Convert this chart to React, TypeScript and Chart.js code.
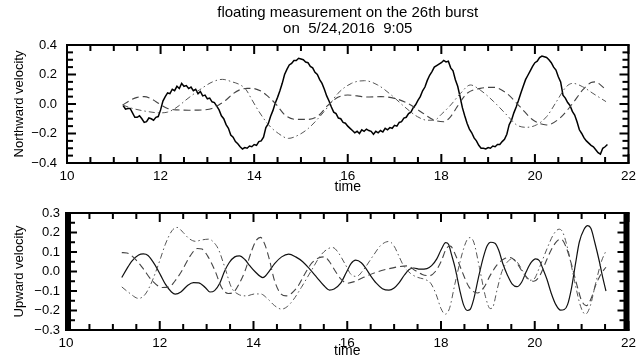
import React, { useEffect, useRef } from "react";
import { Chart, registerables } from "chart.js";

Chart.register(...registerables);

// ---------- text ----------
const TITLE_LINES = ["floating measurement on the 26th burst", "on  5/24,2016  9:05"];
const X_TITLE = "time";
const TOP_Y_TITLE = "Northward velocity";
const BOTTOM_Y_TITLE = "Upward velocity";

// ---------- axis ranges / ticks ----------
const X_RANGE = [10, 22];
const X_MAJOR = 2;
const X_MINOR = 0.5;
const TOP_Y_RANGE = [-0.4, 0.4];
const TOP_Y_MAJOR = 0.2;
const TOP_Y_MINOR = 0.05;
const BOTTOM_Y_RANGE = [-0.3, 0.3];
const BOTTOM_Y_MAJOR = 0.1;
const BOTTOM_Y_MINOR = 0.05;

// ---------- Northward velocity ----------
const northSolidT = [
  11.2, 11.25, 11.3, 11.35, 11.4, 11.45, 11.5, 11.55, 11.6, 11.65,
  11.7, 11.75, 11.8, 11.85, 11.9, 11.95, 12.0, 12.05, 12.1, 12.15,
  12.2, 12.25, 12.3, 12.35, 12.4, 12.45, 12.5, 12.55, 12.6, 12.65,
  12.7, 12.75, 12.8, 12.85, 12.9, 12.95, 13.0, 13.05, 13.1, 13.15,
  13.2, 13.25, 13.3, 13.35, 13.4, 13.45, 13.5, 13.55, 13.6, 13.65,
  13.7, 13.75, 13.8, 13.85, 13.9, 13.95, 14.0, 14.05, 14.1, 14.15,
  14.2, 14.25, 14.3, 14.35, 14.4, 14.45, 14.5, 14.55, 14.6, 14.65,
  14.7, 14.75, 14.8, 14.85, 14.9, 14.95, 15.0, 15.05, 15.1, 15.15,
  15.2, 15.25, 15.3, 15.35, 15.4, 15.45, 15.5, 15.55, 15.6, 15.65,
  15.7, 15.75, 15.8, 15.85, 15.9, 15.95, 16.0, 16.05, 16.1, 16.15,
  16.2, 16.25, 16.3, 16.35, 16.4, 16.45, 16.5, 16.55, 16.6, 16.65,
  16.7, 16.75, 16.8, 16.85, 16.9, 16.95, 17.0, 17.05, 17.1, 17.15,
  17.2, 17.25, 17.3, 17.35, 17.4, 17.45, 17.5, 17.55, 17.6, 17.65,
  17.7, 17.75, 17.8, 17.85, 17.9, 17.95, 18.0, 18.05, 18.1, 18.15,
  18.2, 18.25, 18.3, 18.35, 18.4, 18.45, 18.5, 18.55, 18.6, 18.65,
  18.7, 18.75, 18.8, 18.85, 18.9, 18.95, 19.0, 19.05, 19.1, 19.15,
  19.2, 19.25, 19.3, 19.35, 19.4, 19.45, 19.5, 19.55, 19.6, 19.65,
  19.7, 19.75, 19.8, 19.85, 19.9, 19.95, 20.0, 20.05, 20.1, 20.15,
  20.2, 20.25, 20.3, 20.35, 20.4, 20.45, 20.5, 20.55, 20.6, 20.65,
  20.7, 20.75, 20.8, 20.85, 20.9, 20.95, 21.0, 21.05, 21.1, 21.15,
  21.2, 21.25, 21.3, 21.35, 21.4, 21.45, 21.5, 21.55,
];
const northSolidV = [
  -0.010, -0.035, -0.030, -0.030, -0.060, -0.090, -0.090, -0.080, -0.100, -0.125,
  -0.120, -0.095, -0.100, -0.110, -0.090, -0.085, -0.040, 0.020, 0.050, 0.075,
  0.070, 0.100, 0.090, 0.120, 0.105, 0.140, 0.120, 0.125, 0.105, 0.115,
  0.090, 0.100, 0.070, 0.085, 0.055, 0.060, 0.035, 0.040, 0.015, 0.010,
  -0.015, -0.040, -0.080, -0.100, -0.140, -0.165, -0.210, -0.225, -0.255, -0.270,
  -0.290, -0.305, -0.295, -0.300, -0.285, -0.290, -0.275, -0.280, -0.255, -0.250,
  -0.225, -0.160, -0.135, -0.085, -0.045, 0.005, 0.045, 0.090, 0.140, 0.200,
  0.235, 0.265, 0.275, 0.295, 0.295, 0.310, 0.305, 0.300, 0.285, 0.280,
  0.255, 0.245, 0.215, 0.200, 0.165, 0.140, 0.100, 0.055, 0.020, -0.020,
  -0.055, -0.065, -0.095, -0.100, -0.125, -0.130, -0.150, -0.165, -0.180, -0.195,
  -0.185, -0.200, -0.175, -0.185, -0.170, -0.180, -0.185, -0.205, -0.185, -0.195,
  -0.180, -0.190, -0.165, -0.175, -0.160, -0.165, -0.145, -0.150, -0.125, -0.120,
  -0.095, -0.090, -0.065, -0.055, -0.025, -0.005, 0.025, 0.050, 0.090, 0.115,
  0.160, 0.195, 0.220, 0.250, 0.260, 0.270, 0.280, 0.295, 0.285, 0.290,
  0.245, 0.225, 0.165, 0.120, 0.050, -0.025, -0.080, -0.130, -0.170, -0.195,
  -0.230, -0.250, -0.280, -0.300, -0.300, -0.305, -0.295, -0.300, -0.285, -0.290,
  -0.275, -0.275, -0.255, -0.240, -0.205, -0.140, -0.110, -0.060, -0.020, 0.025,
  0.075, 0.120, 0.165, 0.195, 0.225, 0.255, 0.280, 0.290, 0.315, 0.325,
  0.320, 0.315, 0.300, 0.280, 0.250, 0.230, 0.185, 0.150, 0.060, 0.040,
  0.010, -0.010, -0.050, -0.075, -0.120, -0.175, -0.200, -0.230, -0.250, -0.265,
  -0.280, -0.290, -0.310, -0.330, -0.340, -0.300, -0.290, -0.275,
];

const northDashT = [
  11.19, 11.35, 11.5, 11.65, 11.8, 11.98, 12.15, 12.35, 12.6, 12.9,
  13.1, 13.25, 13.4, 13.55, 13.7, 13.85, 13.95, 14.17, 14.3, 14.45,
  14.66, 14.88, 15.16, 15.37, 15.58, 15.79, 16.0, 16.2, 16.4, 16.71,
  17.0, 17.28, 17.56, 17.84, 18.05, 18.2, 18.34, 18.55, 18.83, 19.12,
  19.4, 19.68, 19.96, 20.25, 20.53, 20.81, 21.02, 21.2, 21.3, 21.4, 21.52,
];
const northDashV = [
  -0.007, 0.025, 0.045, 0.05, 0.035, 0.0, -0.03, -0.04, -0.042, -0.04,
  -0.03, -0.005, 0.027, 0.07, 0.097, 0.106, 0.106, 0.083, 0.05, 0.005,
  -0.075, -0.104, -0.104, -0.08, -0.007, 0.045, 0.061, 0.055, 0.047, 0.05,
  0.038, 0.005, -0.052, -0.108, -0.12, -0.085, -0.018, 0.072, 0.106, 0.113,
  0.072, -0.018, -0.108, -0.142, -0.097, 0.005, 0.095, 0.145, 0.15, 0.13, 0.095,
];

const northDotT = [
  11.19, 11.4, 11.7, 11.98, 12.15, 12.26, 12.4, 12.54, 12.83, 13.11,
  13.32, 13.53, 13.7, 13.82, 13.95, 14.1, 14.31, 14.52, 14.73, 14.95,
  15.16, 15.37, 15.58, 15.79, 16.08, 16.36, 16.64, 16.93, 17.21, 17.49,
  17.7, 17.85, 18.0, 18.2, 18.41, 18.62, 18.83, 19.12, 19.4, 19.61,
  19.82, 20.03, 20.25, 20.46, 20.67, 20.81, 21.02, 21.24, 21.52,
];
const northDotV = [
  -0.007, -0.03, -0.05, -0.06, -0.055, -0.04, -0.01, 0.027, 0.095, 0.15,
  0.167, 0.15, 0.13, 0.1, 0.03, -0.05, -0.142, -0.2, -0.233, -0.21,
  -0.165, -0.097, -0.018, 0.072, 0.14, 0.158, 0.129, 0.061, -0.018, -0.086,
  -0.11, -0.11, -0.07, -0.007, 0.072, 0.129, 0.095, 0.016, -0.075, -0.142,
  -0.158, -0.142, -0.086, 0.016, 0.117, 0.14, 0.117, 0.072, 0.016,
];

// ---------- Upward velocity ----------
const upSolidT = [
  11.19, 11.3, 11.41, 11.55, 11.65, 11.75, 11.91, 12.02, 12.12, 12.25,
  12.33, 12.45, 12.6, 12.72, 12.83, 12.97, 13.07, 13.17, 13.28, 13.38,
  13.48, 13.6, 13.7, 13.82, 13.92, 14.03, 14.2, 14.3, 14.45, 14.6,
  14.75, 14.9, 15.05, 15.2, 15.35, 15.5, 15.62, 15.72, 15.86, 15.98,
  16.08, 16.18, 16.3, 16.4, 16.5, 16.62, 16.75, 16.89, 17.0, 17.1,
  17.22, 17.32, 17.42, 17.55, 17.7, 17.8, 17.91, 18.0, 18.1, 18.16,
  18.22, 18.3, 18.4, 18.48, 18.56, 18.62, 18.7, 18.8, 18.9, 18.98,
  19.06, 19.15, 19.23, 19.32, 19.42, 19.52, 19.62, 19.72, 19.82, 19.92,
  20.02, 20.1, 20.18, 20.26, 20.35, 20.45, 20.55, 20.63, 20.7, 20.78,
  20.87, 20.95, 21.05, 21.13, 21.2, 21.28, 21.38, 21.45, 21.52,
];
const upSolidV = [
  -0.031, 0.015, 0.055, 0.085, 0.09, 0.082, 0.029, -0.02, -0.065, -0.105,
  -0.116, -0.105, -0.07, -0.057, -0.058, -0.082, -0.105, -0.098, -0.06, 0.0,
  0.045, 0.075, 0.08, 0.06, 0.03, 0.0, -0.031, -0.01, 0.04, 0.075,
  0.089, 0.075, 0.05, 0.012, -0.03, -0.072, -0.095, -0.09, -0.06, -0.005,
  0.04, 0.058, 0.045, 0.015, -0.022, -0.06, -0.088, -0.096, -0.085, -0.06,
  -0.018, 0.01, 0.018, 0.012, 0.015, 0.03, 0.065, 0.11, 0.148, 0.14,
  0.09, 0.02, -0.095, -0.17, -0.2, -0.195, -0.14, -0.03, 0.07, 0.13,
  0.15, 0.145, 0.11, 0.04, -0.02, -0.065, -0.078, -0.055, 0.0, 0.045,
  0.065, 0.055, 0.01, -0.04, -0.11, -0.17, -0.198, -0.195, -0.17, -0.09,
  0.04, 0.15, 0.215, 0.235, 0.22, 0.15, 0.05, -0.03, -0.1,
];

const upDashT = [
  11.19, 11.3, 11.45, 11.63, 11.84, 12.05, 12.2, 12.32, 12.47, 12.65,
  12.8, 12.9, 13.02, 13.18, 13.32, 13.46, 13.58, 13.7, 13.82, 13.96,
  14.06, 14.15, 14.24, 14.33, 14.45, 14.59, 14.7, 14.82, 14.95, 15.1,
  15.25, 15.4, 15.51, 15.62, 15.75, 15.87, 16.0, 16.15, 16.35, 16.6,
  16.85, 17.1, 17.28, 17.45, 17.6, 17.75, 17.88, 18.0, 18.12, 18.2,
  18.3, 18.45, 18.6, 18.78, 18.92, 19.05, 19.2, 19.35, 19.47, 19.6,
  19.72, 19.85, 19.98, 20.1, 20.22, 20.35, 20.47, 20.56, 20.66, 20.78,
  20.9, 21.0, 21.1, 21.2, 21.3, 21.42, 21.52,
];
const upDashV = [
  0.097, 0.095, 0.07, 0.02, -0.048, -0.082, -0.08, -0.05, 0.003, 0.08,
  0.118, 0.115, 0.08, 0.003, -0.082, -0.113, -0.105, -0.06, 0.003, 0.106,
  0.16, 0.175, 0.14, 0.07, -0.048, -0.116, -0.125, -0.11, -0.075, -0.01,
  0.045, 0.07, 0.075, 0.05, 0.0, -0.04, -0.06, -0.052, -0.03, -0.005,
  0.012, 0.025, 0.029, 0.005, -0.015, -0.022, 0.0, 0.05, 0.12, 0.13,
  0.09, 0.0, -0.08, -0.11, -0.08, -0.02, 0.035, 0.065, 0.072, 0.05,
  0.005, -0.035, -0.05, -0.025, 0.04, 0.11, 0.155, 0.166, 0.13, 0.04,
  -0.07, -0.15, -0.175, -0.14, -0.07, -0.01, 0.022,
];

const upDotT = [
  11.19, 11.34, 11.55, 11.68, 11.8, 11.91, 12.02, 12.12, 12.26, 12.37,
  12.5, 12.62, 12.76, 12.9, 13.05, 13.15, 13.25, 13.39, 13.53, 13.67,
  13.85, 14.03, 14.15, 14.31, 14.45, 14.6, 14.72, 14.85, 15.02, 15.23,
  15.44, 15.6, 15.69, 15.8, 15.95, 16.08, 16.2, 16.35, 16.55, 16.72,
  16.89, 17.0, 17.1, 17.2, 17.35, 17.5, 17.65, 17.78, 17.9, 18.0,
  18.09, 18.18, 18.3, 18.45, 18.55, 18.62, 18.7, 18.82, 18.95, 19.05,
  19.1, 19.2, 19.3, 19.42, 19.52, 19.62, 19.75, 19.88, 19.98, 20.1,
  20.25, 20.4, 20.52, 20.6, 20.72, 20.85, 20.98, 21.08, 21.18, 21.3,
  21.42, 21.52,
];
const upDotV = [
  -0.079, -0.108, -0.138, -0.12, -0.07, -0.005, 0.07, 0.14, 0.209, 0.226,
  0.2, 0.17, 0.155, 0.162, 0.166, 0.15, 0.115, 0.02, -0.082, -0.116,
  -0.125, -0.115, -0.115, -0.142, -0.175, -0.193, -0.18, -0.145, -0.082, 0.003,
  0.085, 0.118, 0.123, 0.1, 0.04, -0.015, -0.025, 0.01, 0.08, 0.135,
  0.154, 0.13, 0.08, 0.03, -0.01, -0.03, -0.04, -0.06, -0.12, -0.19,
  -0.219, -0.19, -0.06, 0.09, 0.16, 0.174, 0.15, 0.02, -0.13, -0.19,
  -0.185, -0.09, 0.0, 0.05, 0.065, 0.05, 0.0, -0.045, -0.04, 0.02,
  0.11, 0.19, 0.217, 0.2, 0.1, -0.05, -0.18, -0.219, -0.18, -0.06,
  0.05, 0.106,
];

// ---------- styles ----------
const FONT_FAMILY = '"Liberation Sans", Arial, sans-serif';
const DASH = [7, 4];
const DASH_DOT = [6, 3, 1.5, 3];

const zip = (t: number[], v: number[]) => t.map((x, i) => ({ x, y: v[i] }));

const fmtY = (v: number) => {
  if (Math.abs(v) < 1e-9) return "0.0";
  return v.toFixed(1).replace("-", "\u2212");
};

type FrameCfg = {
  yRange: number[];
  yMajor: number;
  yMinor: number;
  yBar: number;
  yMajorLen: number;
  yMinorLen: number;
};

function makeFramePlugin(cfg: FrameCfg) {
  return {
    id: "frame",
    afterDraw(chart: any) {
      const ctx = chart.ctx;
      const a = chart.chartArea;
      const xs = chart.scales.x;
      const ys = chart.scales.y;
      ctx.save();
      ctx.fillStyle = "#000";
      // x ticks, inward on top and bottom edges
      const nx = Math.round((X_RANGE[1] - X_RANGE[0]) / X_MINOR);
      for (let i = 0; i <= nx; i++) {
        const v = X_RANGE[0] + i * X_MINOR;
        const major = Math.abs(v / X_MAJOR - Math.round(v / X_MAJOR)) < 1e-6;
        const px = xs.getPixelForValue(v);
        const len = major ? 9 : 6;
        ctx.fillRect(px - 1, a.top, 2, len);
        ctx.fillRect(px - 1, a.bottom - len, 2, len);
      }
      // dense bar along y edges
      if (cfg.yBar > 0) {
        ctx.fillRect(a.left, a.top, cfg.yBar, a.bottom - a.top);
        ctx.fillRect(a.right - cfg.yBar, a.top, cfg.yBar, a.bottom - a.top);
      }
      // y ticks, inward on left and right edges
      const ny = Math.round((cfg.yRange[1] - cfg.yRange[0]) / cfg.yMinor);
      for (let i = 0; i <= ny; i++) {
        const v = cfg.yRange[0] + i * cfg.yMinor;
        const major = Math.abs(v / cfg.yMajor - Math.round(v / cfg.yMajor)) < 1e-6;
        const py = ys.getPixelForValue(v);
        const len = major ? cfg.yMajorLen : cfg.yMinorLen;
        ctx.fillRect(a.left, py - 1, len, 2);
        ctx.fillRect(a.right - len, py - 1, len, 2);
      }
      // frame
      ctx.fillRect(a.left - 1, a.top - 1, a.right - a.left + 2, 2);
      ctx.fillRect(a.left - 1, a.bottom - 1, a.right - a.left + 2, 2);
      ctx.fillRect(a.left - 1, a.top - 1, 2, a.bottom - a.top + 2);
      ctx.fillRect(a.right - 1, a.top - 1, 2, a.bottom - a.top + 2);
      ctx.restore();
    },
  };
}

function lineSet(data: any[], color: string, width: number, dash: number[], smooth: boolean) {
  return {
    data,
    borderColor: color,
    borderWidth: width,
    borderDash: dash,
    pointRadius: 0,
    fill: false,
    tension: 0,
    cubicInterpolationMode: smooth ? "monotone" : "default",
  };
}

function makeOptions(p: {
  yRange: number[];
  yMajor: number;
  yTitle: string;
  yAxisWidth: number;
  yLabelPad: number;
  xAxisHeight: number;
  xTitlePadBottom: number;
  padTop: number;
  title: boolean;
}) {
  const tickFont = { family: FONT_FAMILY, size: 13 };
  return {
    animation: false,
    responsive: false,
    devicePixelRatio: 1,
    events: [],
    layout: { padding: { top: p.padTop, right: 8, bottom: 0, left: 0 } },
    plugins: {
      legend: { display: false },
      tooltip: { enabled: false },
      title: {
        display: p.title,
        text: TITLE_LINES,
        fullSize: false,
        color: "#000",
        font: { family: FONT_FAMILY, size: 15, weight: "normal", lineHeight: "16px" },
        padding: { top: 5, bottom: 8 },
      },
    },
    scales: {
      x: {
        type: "linear",
        min: X_RANGE[0],
        max: X_RANGE[1],
        grid: { display: false, drawTicks: false },
        border: { display: false },
        ticks: { stepSize: X_MAJOR, color: "#000", font: { family: FONT_FAMILY, size: 13.5 }, padding: 5, maxRotation: 0 },
        title: {
          display: true,
          text: X_TITLE,
          color: "#000",
          font: { family: FONT_FAMILY, size: 14, lineHeight: 1.2 },
          padding: { top: 0, bottom: p.xTitlePadBottom },
        },
        afterFit: (s: any) => {
          s.height = p.xAxisHeight;
        },
      },
      y: {
        type: "linear",
        min: p.yRange[0],
        max: p.yRange[1],
        grid: { display: false, drawTicks: false },
        border: { display: false },
        ticks: {
          stepSize: p.yMajor,
          color: "#000",
          font: tickFont,
          padding: p.yLabelPad,
          callback: (v: number) => fmtY(v),
        },
        title: {
          display: true,
          text: p.yTitle,
          color: "#000",
          font: { family: FONT_FAMILY, size: 13, lineHeight: 1.2 },
          padding: { top: 12, bottom: 0 },
        },
        afterFit: (s: any) => {
          s.width = p.yAxisWidth;
        },
      },
    },
  };
}

export default function App() {
  const topRef = useRef<HTMLCanvasElement>(null);
  const botRef = useRef<HTMLCanvasElement>(null);

  useEffect(() => {
    const top = new Chart(topRef.current as HTMLCanvasElement, {
      type: "line",
      data: {
        datasets: [
          lineSet(zip(northDotT, northDotV), "#555", 1, DASH_DOT, true),
          lineSet(zip(northDashT, northDashV), "#444", 1.1, DASH, true),
          lineSet(zip(northSolidT, northSolidV), "#000", 1.5, [], false),
        ],
      },
      options: makeOptions({
        yRange: TOP_Y_RANGE,
        yMajor: TOP_Y_MAJOR,
        yTitle: TOP_Y_TITLE,
        yAxisWidth: 67,
        yLabelPad: 10,
        xAxisHeight: 34,
        xTitlePadBottom: 1,
        padTop: 0,
        title: true,
      }) as any,
      plugins: [
        makeFramePlugin({
          yRange: TOP_Y_RANGE,
          yMajor: TOP_Y_MAJOR,
          yMinor: TOP_Y_MINOR,
          yBar: 0,
          yMajorLen: 9,
          yMinorLen: 6,
        }),
      ],
    });
    const bot = new Chart(botRef.current as HTMLCanvasElement, {
      type: "line",
      data: {
        datasets: [
          lineSet(zip(upDotT, upDotV), "#555", 1, DASH_DOT, true),
          lineSet(zip(upDashT, upDashV), "#444", 1.1, DASH, true),
          lineSet(zip(upSolidT, upSolidV), "#111", 1.2, [], true),
        ],
      },
      options: makeOptions({
        yRange: BOTTOM_Y_RANGE,
        yMajor: BOTTOM_Y_MAJOR,
        yTitle: BOTTOM_Y_TITLE,
        yAxisWidth: 66,
        yLabelPad: 6,
        xAxisHeight: 30,
        xTitlePadBottom: 0,
        padTop: 16,
        title: false,
      }) as any,
      plugins: [
        makeFramePlugin({
          yRange: BOTTOM_Y_RANGE,
          yMajor: BOTTOM_Y_MAJOR,
          yMinor: BOTTOM_Y_MINOR,
          yBar: 5,
          yMajorLen: 11,
          yMinorLen: 9,
        }),
      ],
    });
    return () => {
      top.destroy();
      bot.destroy();
    };
  }, []);

  return (
    <div style={{ position: "absolute", left: 0, top: 0, width: 641, height: 360, background: "#fff" }}>
      <canvas ref={topRef} width={641} height={197} style={{ position: "absolute", left: 0, top: 0, display: "block" }} />
      <canvas ref={botRef} width={641} height={163} style={{ position: "absolute", left: 0, top: 197, display: "block" }} />
    </div>
  );
}
